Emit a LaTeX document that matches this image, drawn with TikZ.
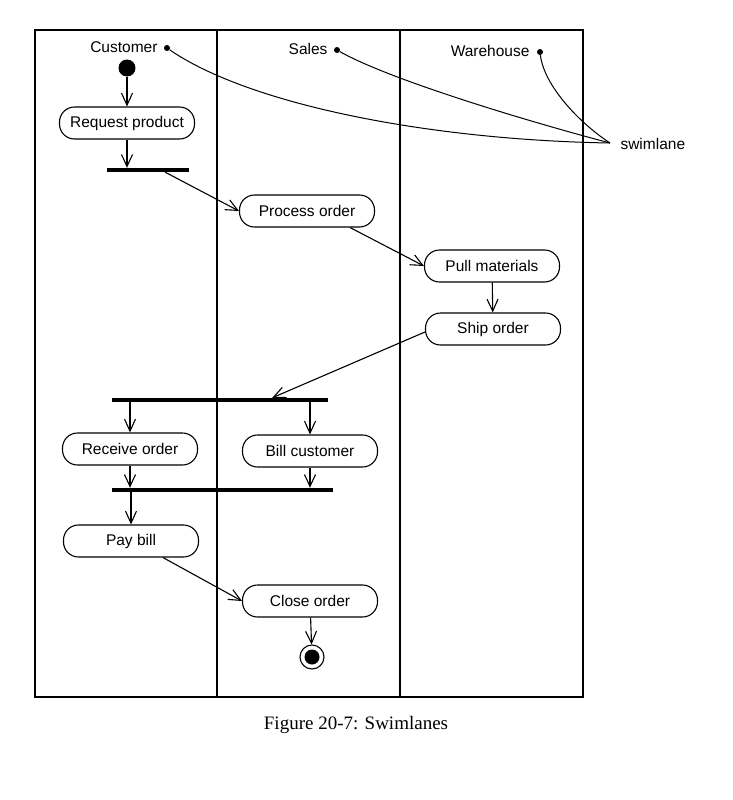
\documentclass[tikz,border=0pt]{standalone}
\usepackage{fontspec}
\setmainfont{Liberation Serif}
\setsansfont{Liberation Sans}
\usetikzlibrary{arrows.meta}
\tikzset{%
	activity/.style = {draw, line width=1.1pt, rectangle, rounded corners=15pt,
		minimum height = 32pt, minimum width = 135pt,
		font=\sffamily\fontsize{15.5}{18}\selectfont},
	bar/.style      = {fill, rectangle, inner sep=0pt, minimum height = 4pt}, % fork / join
	lanedot/.style  = {fill, circle, inner sep=0pt, minimum size = 6pt},
	lanename/.style = {font=\sffamily\fontsize{15.5}{18}\selectfont},
	flow/.style     = {line width=1.1pt, -{Straight Barb[length=12pt,width=11pt,line width=1.1pt]}}
}
\begin{document}
\begin{tikzpicture}[x=1pt,y=-1pt]
			\useasboundingbox (0,0) rectangle (732,800);
			% swimlanes
			\draw[line width=1.3pt] (35,30) rectangle (583,697);
			\draw[line width=1.1pt] (217,30) -- (217,697);
			\draw[line width=1.1pt] (400,30) -- (400,697);

			\node[lanedot] (custDot)  at (167,48) {};
			\node[lanedot] (salesDot) at (337,50) {};
			\node[lanedot] (wareDot)  at (540,52) {};
			\node[lanename,anchor=east] (custName)  at (161,47) {Customer};
			\node[lanename,anchor=east] (salesName) at (331,49) {Sales};
			\node[lanename,anchor=east] (wareName)  at (533,51) {Warehouse};
			\coordinate (swim) at (610,143);
			\node[lanename,anchor=west] (swimName) at (617,144) {swimlane};

			\draw[line width=1pt] (custDot) .. controls (250,105) and (430,140) .. (swim);
			\draw[line width=1pt] (salesDot) .. controls (390,80) and (530,122) .. (swim);
			\draw[line width=1pt] (wareDot) .. controls (544,85) and (578,122) .. (swim);

			% activities
			\node[fill,circle,inner sep=0pt,minimum size=17pt] (start) at (127,68) {};
			\node[activity] (request) at (127,123) {Request product};
			\node[bar,minimum width=82pt] (fork1) at (148,170) {};
			\node[activity] (process) at (307,211) {Process order};
			\node[activity] (pull)    at (492,266) {Pull materials};
			\node[activity] (ship)    at (493,329) {Ship order};
			\node[bar,minimum width=216pt] (fork2) at (220,400) {};
			\node[activity] (receive) at (130,449) {Receive order};
			\node[activity] (bill)    at (310,451) {Bill customer};
			\node[bar,minimum width=221pt] (join1) at (222,490) {};
			\node[activity] (pay)     at (131,541) {Pay bill};
			\node[activity] (close)   at (310,601) {Close order};
			\node[draw,circle,line width=1.1pt,inner sep=0pt,minimum size=24pt] (finish) at (312,657) {};
			\node[fill,circle,inner sep=0pt,minimum size=15pt] (finishDot) at (finish) {};

			\draw[flow] (start) -- (request);
			\draw[flow] (request) -- (request.south |- fork1.north);
			\draw[flow] ([xshift=-24pt]fork1.south east) -- (process.west);
			\draw[flow] ([xshift=-25pt]process.south east) -- (pull.west);
			\draw[flow] (pull) -- (ship);
			\draw[flow] ([yshift=-3pt]ship.west) -- ([xshift=-56pt]fork2.north east);
			\draw[flow] (receive.north |- fork2.south) -- (receive.north);
			\draw[flow] (bill.north |- fork2.south) -- (bill.north);
			\draw[flow] (receive.south) -- (receive.south |- join1.north);
			\draw[flow] (bill.south) -- (bill.south |- join1.north);
			\draw[flow] (pay.north |- join1.south) -- (pay.north);
			\draw[flow] ([xshift=32pt]pay.south) -- (close.west);
			\draw[flow] (close) -- (finish);

			\node[font=\fontsize{19}{22}\selectfont] (caption) at (356,725) {Figure 20-7: Swimlanes};
		\end{tikzpicture}
\end{document}
